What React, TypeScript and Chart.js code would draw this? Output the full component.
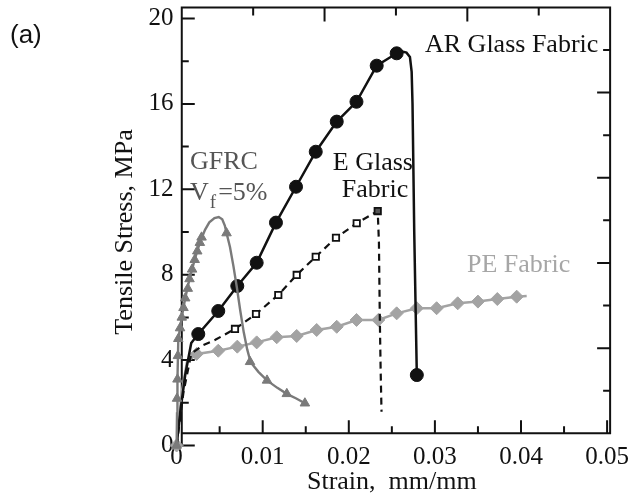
import React, { useEffect, useRef } from "react";
import { Chart, registerables } from "chart.js";
Chart.register(...registerables);

// ---- Data (strain mm/mm, stress MPa) ----
const arCurveX = [0, 0.0004, 0.001, 0.0017, 0.00252, 0.00484, 0.00705, 0.0093, 0.01154, 0.01387, 0.01616, 0.0186, 0.02089, 0.02324, 0.02556, 0.0262, 0.0267, 0.0271, 0.0273, 0.0274, 0.0276, 0.0279];
const arCurveY = [0, 1.5, 3.3, 4.8, 5.22, 6.3, 7.47, 8.56, 10.44, 12.12, 13.76, 15.17, 16.1, 17.79, 18.37, 18.45, 18.4, 18.2, 17.5, 16.0, 10.0, 3.3];
const arMarkX = [0.00252, 0.00484, 0.00705, 0.0093, 0.01154, 0.01387, 0.01616, 0.0186, 0.02089, 0.02324, 0.02556, 0.0279];
const arMarkY = [5.22, 6.3, 7.47, 8.56, 10.44, 12.12, 13.76, 15.17, 16.1, 17.79, 18.37, 3.3];

const eCurveX = [0, 0.0008, 0.0017, 0.0031, 0.0045, 0.00678, 0.00922, 0.01181, 0.01395, 0.01616, 0.01851, 0.02092, 0.02336, 0.0235, 0.0236, 0.0237, 0.0238];
const eCurveY = [0, 2.5, 4.3, 4.7, 4.95, 5.46, 6.16, 7.05, 7.99, 8.84, 9.73, 10.41, 10.98, 9.5, 6.0, 3.5, 1.58];
const eMarkX = [0.00678, 0.00922, 0.01181, 0.01395, 0.01616, 0.01851, 0.02092, 0.02336];
const eMarkY = [5.46, 6.16, 7.05, 7.99, 8.84, 9.73, 10.41, 10.98];

const peCurveX = [0, 0.0006, 0.0012, 0.00233, 0.00484, 0.00705, 0.0093, 0.01163, 0.01395, 0.01627, 0.0186, 0.0209, 0.02343, 0.02556, 0.0279, 0.0302, 0.03265, 0.035, 0.03725, 0.0395, 0.04066];
const peCurveY = [0, 2.5, 3.9, 4.29, 4.44, 4.63, 4.83, 5.07, 5.13, 5.41, 5.56, 5.88, 5.88, 6.19, 6.43, 6.43, 6.66, 6.74, 6.86, 6.97, 7.0];
const peMarkX = [0, 0.00233, 0.00484, 0.00705, 0.0093, 0.01163, 0.01395, 0.01627, 0.0186, 0.0209, 0.02343, 0.02556, 0.0279, 0.0302, 0.03265, 0.035, 0.03725, 0.0395];
const peMarkY = [0, 4.29, 4.44, 4.63, 4.83, 5.07, 5.13, 5.41, 5.56, 5.88, 5.88, 6.19, 6.43, 6.43, 6.66, 6.74, 6.86, 6.97];

const gfrcCurveX = [0, 0.00005, 0.0001, 0.0002, 0.0006, 0.001, 0.0015, 0.0021, 0.0027, 0.0033, 0.0038, 0.0044, 0.0049, 0.0053, 0.0056, 0.0058, 0.0062, 0.0066, 0.007, 0.0074, 0.0078, 0.0082, 0.0086, 0.0095, 0.0105, 0.0117, 0.0128, 0.0139, 0.0149];
const gfrcCurveY = [0, 1.5, 3.1, 5.0, 6.0, 6.9, 7.8, 8.7, 9.5, 10.1, 10.45, 10.65, 10.7, 10.6, 10.3, 9.95, 9.3, 8.4, 7.4, 6.3, 5.3, 4.5, 3.9, 3.45, 3.05, 2.7, 2.42, 2.2, 1.98];
const gfrcRiseMarkX = [0, 0.00005, 0.0001, 0.00015, 0.0002, 0.0004, 0.0006, 0.0008, 0.001, 0.0013, 0.0015, 0.0018, 0.0021, 0.0024, 0.0027, 0.0029, 0.0058];
const gfrcRiseMarkY = [0, 2.2, 3.1, 4.2, 5.0, 5.5, 6.0, 6.45, 6.9, 7.35, 7.8, 8.25, 8.7, 9.1, 9.5, 9.75, 9.95];
const gfrcFallMarkX = [0.00853, 0.0105, 0.0128, 0.0149];
const gfrcFallMarkY = [3.92, 3.05, 2.42, 1.98];

// ---- Axis ticks ----
const xTicks = [0, 0.01, 0.02, 0.03, 0.04, 0.05];
const xTickLabels = ["0", "0.01", "0.02", "0.03", "0.04", "0.05"];
const xMinorTicks = [0.005, 0.015, 0.025, 0.035, 0.045];
const yTicks = [0, 4, 8, 12, 16, 20];
const yTickLabels = ["0", "4", "8", "12", "16", "20"];
const yMinorTicks = [2, 6, 10, 14, 18];

// ---- Labels ----
const curveLabels = [
  { text: "AR Glass Fabric", x: 0.02885, y: 18.76, align: "left", color: "#111" },
  { text: "E Glass", x: 0.0228, y: 13.23, align: "center", color: "#111" },
  { text: "Fabric", x: 0.02304, y: 11.97, align: "center", color: "#111" },
  { text: "GFRC", x: 0.00156, y: 13.28, align: "left", color: "#555" },
  { text: "PE Fabric", x: 0.03373, y: 8.45, align: "left", color: "#a6a6a6" },
];

const SERIF = "'Liberation Serif', 'Times New Roman', serif";
const SANS = "'Liberation Sans', Arial, sans-serif";

const pts = (xs: number[], ys: number[]) => xs.map((x, i) => ({ x, y: ys[i] }));

const FRAME = { xMin: 0.0006, xMax: 0.05035, yMin: 0.57, yMax: 20.52 };

const framePlugin = {
  id: "frameTicks",
  beforeDatasetsDraw(chart: any) {
    const { ctx, scales } = chart;
    const xs = scales.x, ys = scales.y;
    const L = xs.getPixelForValue(FRAME.xMin);
    const R = xs.getPixelForValue(FRAME.xMax);
    const T = ys.getPixelForValue(FRAME.yMax);
    const B = ys.getPixelForValue(FRAME.yMin);
    const y0 = ys.getPixelForValue(0);
    ctx.save();
    ctx.strokeStyle = "#111";
    ctx.lineWidth = 2;
    ctx.lineCap = "butt";
    ctx.beginPath();
    ctx.moveTo(L, y0 + 1);
    ctx.lineTo(L, T);
    ctx.lineTo(R, T);
    ctx.lineTo(R, B);
    ctx.lineTo(L - 1, B);
    ctx.stroke();
    ctx.beginPath();
    // left ticks
    yTicks.forEach((v) => {
      const p = ys.getPixelForValue(v);
      ctx.moveTo(L, p);
      ctx.lineTo(L + 13, p);
    });
    yMinorTicks.forEach((v) => {
      const p = ys.getPixelForValue(v);
      ctx.moveTo(L, p);
      ctx.lineTo(L + 7, p);
    });
    // bottom ticks
    xTicks.forEach((v) => {
      if (v <= FRAME.xMin) return;
      const p = xs.getPixelForValue(v);
      ctx.moveTo(p, B);
      ctx.lineTo(p, B - 13);
    });
    xMinorTicks.forEach((v) => {
      const p = xs.getPixelForValue(v);
      ctx.moveTo(p, B);
      ctx.lineTo(p, B - 7);
    });
    // top ticks (6 equal divisions)
    for (let k = 1; k < 6; k++) {
      const p = L + ((R - L) * k) / 6;
      ctx.moveTo(p, T);
      ctx.lineTo(p, T + (k % 2 === 0 ? 14 : 8));
    }
    // right ticks (10 equal divisions)
    for (let k = 1; k < 10; k++) {
      const p = B - ((B - T) * k) / 10;
      ctx.moveTo(R, p);
      ctx.lineTo(R - (k % 2 === 0 ? 13 : 7), p);
    }
    ctx.stroke();
    ctx.restore();
  },
  afterDatasetsDraw(chart: any) {
    const { ctx, scales } = chart;
    const xs = scales.x, ys = scales.y;
    ctx.save();
    ctx.textBaseline = "middle";
    ctx.font = `26px ${SERIF}`;
    curveLabels.forEach((l) => {
      ctx.fillStyle = l.color;
      ctx.textAlign = l.align as CanvasTextAlign;
      ctx.fillText(l.text, xs.getPixelForValue(l.x), ys.getPixelForValue(l.y));
    });
    // V_f = 5%
    ctx.fillStyle = "#555";
    ctx.textAlign = "left";
    let px = xs.getPixelForValue(0.00156);
    const py = ys.getPixelForValue(11.83);
    ctx.font = `26px ${SERIF}`;
    ctx.fillText("V", px, py);
    px += ctx.measureText("V").width + 1;
    ctx.font = `19px ${SERIF}`;
    ctx.fillText("f", px, py + 10);
    px += ctx.measureText("f").width + 2;
    ctx.font = `26px ${SERIF}`;
    ctx.fillText("=5%", px, py);
    // panel label
    ctx.fillStyle = "#111";
    ctx.font = `26px ${SANS}`;
    ctx.fillText("(a)", 10, 36);
    ctx.restore();
  },
};

export default function App() {
  const ref = useRef<HTMLCanvasElement | null>(null);
  useEffect(() => {
    document.body.style.margin = "0";
    const canvas = ref.current;
    if (!canvas) return;
    const black = "#111111";
    const peGray = "#a3a3a3";
    const gfGray = "#7a7a7a";
    const chart = new Chart(canvas, {
      type: "scatter",
      data: {
        datasets: [
          {
            label: "GFRC rise markers",
            data: pts(gfrcRiseMarkX, gfrcRiseMarkY),
            showLine: false,
            pointStyle: "triangle",
            pointRadius: 5.5,
            backgroundColor: gfGray,
            borderColor: gfGray,
            borderWidth: 1,
            clip: false,
          },
          {
            label: "GFRC fall markers",
            data: pts(gfrcFallMarkX, gfrcFallMarkY),
            showLine: false,
            pointStyle: "triangle",
            pointRotation: 120,
            pointRadius: 5.5,
            backgroundColor: gfGray,
            borderColor: gfGray,
            borderWidth: 1,
            clip: false,
          },
          {
            label: "GFRC",
            data: pts(gfrcCurveX, gfrcCurveY),
            showLine: true,
            pointRadius: 0,
            borderColor: gfGray,
            borderWidth: 2.4,
            tension: 0,
            clip: false,
          },
          {
            label: "AR markers",
            data: pts(arMarkX, arMarkY),
            showLine: false,
            pointStyle: "circle",
            pointRadius: 6.5,
            backgroundColor: black,
            borderColor: black,
            borderWidth: 1,
            clip: false,
          },
          {
            label: "AR Glass Fabric",
            data: pts(arCurveX, arCurveY),
            showLine: true,
            pointRadius: 0,
            borderColor: black,
            borderWidth: 2.5,
            tension: 0,
            clip: false,
          },
          {
            label: "E markers",
            data: pts(eMarkX, eMarkY),
            showLine: false,
            pointStyle: "rect",
            pointRadius: 4.5,
            backgroundColor: eMarkX.map((_, i) => (i === eMarkX.length - 1 ? "#555" : "#ffffff")),
            borderColor: black,
            borderWidth: 1.8,
            clip: false,
          },
          {
            label: "E Glass Fabric",
            data: pts(eCurveX, eCurveY),
            showLine: true,
            pointRadius: 0,
            borderColor: black,
            borderWidth: 2.2,
            borderDash: [7, 5],
            tension: 0,
            clip: false,
          },
          {
            label: "PE markers",
            data: pts(peMarkX, peMarkY),
            showLine: false,
            pointStyle: "rectRot",
            pointRadius: 6.5,
            backgroundColor: peGray,
            borderColor: peGray,
            borderWidth: 1,
            clip: false,
          },
          {
            label: "PE Fabric",
            data: pts(peCurveX, peCurveY),
            showLine: true,
            pointRadius: 0,
            borderColor: peGray,
            borderWidth: 2.5,
            tension: 0,
            clip: false,
          },
        ],
      },
      options: {
        animation: false,
        responsive: false,
        devicePixelRatio: 1,
        layout: { padding: { left: 0, right: 21.9, top: 18.5, bottom: 0 } },
        plugins: { legend: { display: false }, tooltip: { enabled: false } },
        scales: {
          x: {
            type: "linear",
            min: 0,
            max: 0.05,
            grid: { display: false, drawTicks: false },
            border: { display: false },
            afterBuildTicks: (s: any) => {
              s.ticks = xTicks.map((v) => ({ value: v }));
            },
            afterFit: (s: any) => {
              s.height = 53.5;
            },
            ticks: {
              autoSkip: false,
              maxRotation: 0,
              padding: -1,
              color: "#111",
              font: { family: SERIF, size: 25, lineHeight: 1 },
              callback: (_v: any, i: number) => xTickLabels[i],
            },
            title: {
              display: true,
              text: "Strain,  mm/mm",
              color: "#111",
              font: { family: SERIF, size: 26, lineHeight: 1.2 },
              padding: { top: 0, bottom: 1.5 },
            },
          },
          y: {
            type: "linear",
            min: 0,
            max: 20,
            grid: { display: false, drawTicks: false },
            border: { display: false },
            afterBuildTicks: (s: any) => {
              s.ticks = yTicks.map((v) => ({ value: v }));
            },
            afterFit: (s: any) => {
              s.width = 176.6;
            },
            ticks: {
              autoSkip: false,
              padding: 3,
              color: "#111",
              font: { family: SERIF, size: 25, lineHeight: 1 },
              callback: (_v: any, i: number) => yTickLabels[i],
            },
            title: {
              display: true,
              text: "Tensile Stress, MPa",
              color: "#111",
              font: { family: SERIF, size: 26, lineHeight: 1.2 },
              padding: { top: 109.4, bottom: 0 },
            },
          },
        },
      },
      plugins: [framePlugin],
    } as any);
    return () => chart.destroy();
  }, []);
  return (
    <div style={{ width: 629, height: 499, background: "#fff" }}>
      <canvas ref={ref} width={629} height={499} style={{ display: "block" }} />
    </div>
  );
}
